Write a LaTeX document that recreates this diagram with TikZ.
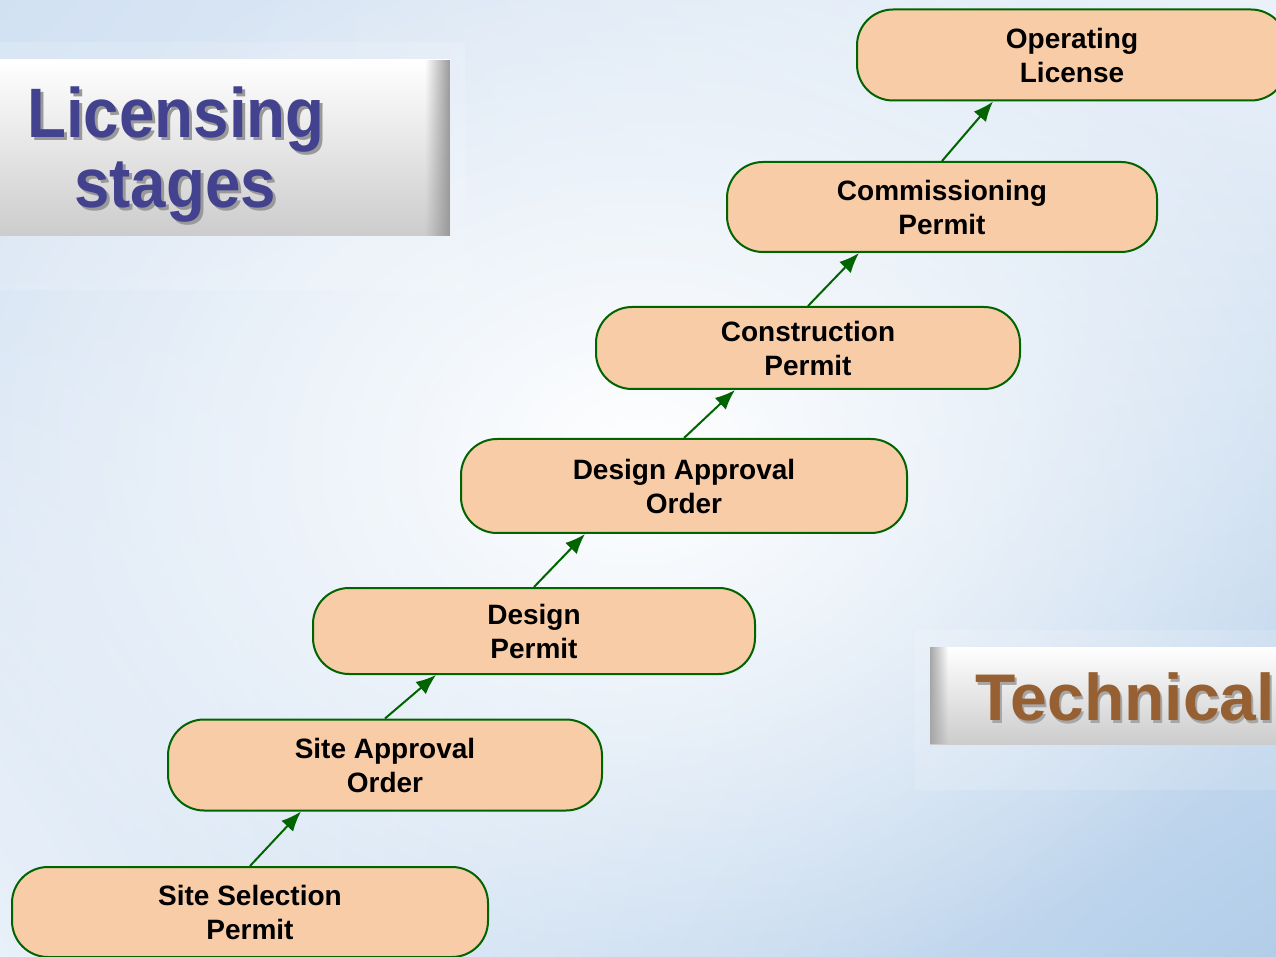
\documentclass[tikz,border=0pt]{standalone}
\usepackage{fontspec}
\setmainfont{Liberation Sans}
\usetikzlibrary{arrows.meta,fadings,shadings}
\definecolor{stagefill}{RGB}{249,204,168}
\definecolor{stageline}{RGB}{0,100,0}
\definecolor{titleblue}{RGB}{66,66,142}
\definecolor{titlebrown}{RGB}{150,96,50}
\definecolor{bgul}{RGB}{210,225,242}
\definecolor{bgur}{RGB}{234,241,249}
\definecolor{bgll}{RGB}{232,240,249}
\definecolor{bglr}{RGB}{178,205,233}
\tikzfading[name=fadeleft,left color=transparent!100,right color=transparent!0]
\tikzfading[name=faderight,left color=transparent!0,right color=transparent!100]
\tikzfading[name=softglow,inner color=transparent!0,outer color=transparent!100]
\begin{document}
\begin{tikzpicture}[x=0.5pt,y=-0.5pt,>={Latex[length=10pt,width=8pt]}]
	\tikzset{stage/.style={draw=stageline,line width=1pt,fill=stagefill,rounded corners=18pt,
			minimum height=45pt,align=center,inner sep=0pt,
			font=\fontsize{14}{17}\selectfont\bfseries},
		up/.style={->,draw=stageline,line width=1pt},
		titlebox/.style={top color=white,bottom color=black!20},
		titletext/.style={font=\fontsize{35}{35}\selectfont\bfseries,anchor=base,inner sep=0pt}
	}
	\useasboundingbox (0,0) rectangle (1276,957);
	\clip (0,0) rectangle (1276,957);
	\shade[upper left=bgul,upper right=bgur,lower left=bgll,lower right=bglr] (0,0) rectangle (1276,957);
	\fill[white,fill opacity=1,path fading=softglow] (640,460) ellipse (720 and 560);
	\fill[white,fill opacity=0.15] (0,42) rectangle (465,290);
	\fill[white,fill opacity=0.15] (915,630) rectangle (1276,790);
	% title boxes
	\shade[titlebox] (-10,60) rectangle (450,236);
	\fill[black!40,path fading=fadeleft] (425,60) rectangle (450,236);
	\node[titletext,text=black!40] (licsh) at (179,141) {\scalebox{0.91}[1]{Licensing}};
	\node[titletext,text=titleblue] (lic) at (176,138) {\scalebox{0.91}[1]{Licensing}};
	\node[titletext,text=black!40] (stgsh) at (178,211) {\scalebox{0.91}[1]{stages}};
	\node[titletext,text=titleblue] (stg) at (175,208) {\scalebox{0.91}[1]{stages}};
	\shade[titlebox] (930,647) rectangle (1290,744);
	\fill[black!35,path fading=faderight] (930,647) rectangle (948,744);
	\node[titletext,anchor=base west,font=\fontsize{33}{33}\selectfont\bfseries,text=black!35] (tecsh) at (977,723) {Technical};
	\node[titletext,anchor=base west,font=\fontsize{33}{33}\selectfont\bfseries,text=titlebrown] (tec) at (975,720) {Technical};
	% stages
	\node[stage,minimum width=238pt] (ss) at (250,912) {Site Selection\\Permit};
	\node[stage,minimum width=217pt,minimum height=45.5pt] (sa) at (385,765) {Site Approval\\Order};
	\node[stage,minimum width=221pt,minimum height=43pt] (dp) at (534,631) {Design\\Permit};
	\node[stage,minimum width=223pt,minimum height=47pt] (da) at (684,486) {Design Approval\\Order};
	\node[stage,minimum width=212pt,minimum height=41pt] (cp) at (808,348) {Construction\\Permit};
	\node[stage,minimum width=215pt] (cm) at (942,207) {Commissioning\\Permit};
	\node[stage,minimum width=215pt,minimum height=45.5pt] (ol) at (1072,55) {Operating\\License};
	\foreach \a/\b in {ss/sa,sa/dp,dp/da,da/cp,cp/cm,cm/ol}{
		\path (\a.north) ++(51,0) coordinate (tip);
		\draw[up] (\a.north) -- (tip |- \b.south);
	}
\end{tikzpicture}
\end{document}
